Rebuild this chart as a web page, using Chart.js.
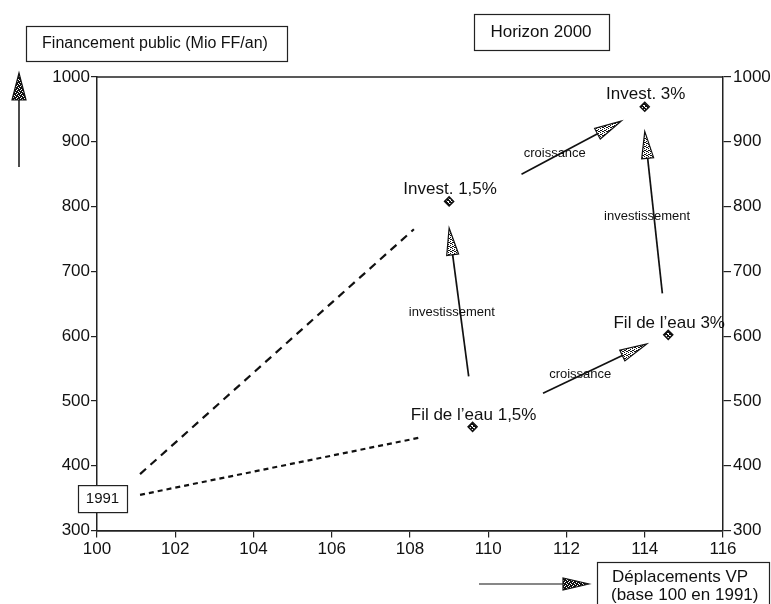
<!DOCTYPE html>
<html>
<head>
<meta charset="utf-8">
<script src="https://cdn.jsdelivr.net/npm/chart.js@4.4.0/dist/chart.umd.min.js"></script>
<style>
  html, body { margin: 0; padding: 0; background: #fff; }
  #wrap { width: 771px; height: 604px; }
</style>
</head>
<body>
<div id="wrap"><canvas id="chart" width="771" height="604"></canvas></div>
<script>
// scenario points (horizon 2000)
const pointLabels = ["Invest. 1,5%", "Invest. 3%", "Fil de l’eau 1,5%", "Fil de l’eau 3%"];
const pointX = [109.0, 114.0, 109.6, 114.6];
const pointY = [808, 954, 460, 602];

// dashed trends from 1991
const trendInvestX = [101.1, 108.1];
const trendInvestY = [387, 765];
const trendFilX = [101.1, 108.3];
const trendFilY = [355, 444];

// arrows between scenarios
const arrowLabels = ["investissement", "croissance", "investissement", "croissance"];
const arrowFromX = [109.5, 110.85, 114.45, 111.4];
const arrowFromY = [538, 850, 666, 512];
const arrowToX = [109.0, 113.4, 114.0, 114.05];
const arrowToY = [767, 932, 916, 588];

// axis ticks
const xTicks = [100, 102, 104, 106, 108, 110, 112, 114, 116];
const yTicks = [300, 400, 500, 600, 700, 800, 900, 1000];

const FONT = "'Liberation Sans', Arial, Helvetica, sans-serif";

function dither(dots) {
  const c = document.createElement("canvas");
  c.width = 4; c.height = 4;
  const g = c.getContext("2d");
  g.fillStyle = "#fff";
  g.fillRect(0, 0, 4, 4);
  g.fillStyle = "#111";
  dots.forEach(d => g.fillRect(d[0], d[1], 1, 1));
  return g.createPattern(c, "repeat");
}
const ctx = document.getElementById("chart").getContext("2d");
const lightFill = dither([[0, 0], [2, 1], [1, 2], [3, 3], [2, 3], [0, 2]]);
const darkFill = dither([[0, 0], [1, 0], [2, 0], [0, 1], [2, 1], [3, 1], [1, 2], [2, 2], [3, 2], [0, 3], [1, 3], [3, 3]]);
const markFill = dither([[0, 0], [1, 1], [2, 2], [3, 3], [3, 0], [0, 3], [2, 1], [1, 2], [1, 0], [3, 2]]);

function arrowHead(g, tx, ty, fx, fy, len, wid, fill) {
  const a = Math.atan2(ty - fy, tx - fx);
  const bx = tx - Math.cos(a) * len, by = ty - Math.sin(a) * len;
  const px = -Math.sin(a) * wid / 2, py = Math.cos(a) * wid / 2;
  g.beginPath();
  g.moveTo(tx, ty);
  g.lineTo(bx + px, by + py);
  g.lineTo(bx - px, by - py);
  g.closePath();
  g.fillStyle = fill;
  g.fill();
  g.lineWidth = 1.2;
  g.strokeStyle = "#111";
  g.stroke();
  return [bx, by];
}

function box(g, x, y, w, h) {
  g.lineWidth = 1.2;
  g.strokeStyle = "#222";
  g.strokeRect(x + 0.5, y + 0.5, w, h);
}

const annotations = {
  id: "annotations",
  afterDatasetsDraw(chart) {
    const g = chart.ctx;
    const xs = chart.scales.x, ys = chart.scales.y;
    const area = chart.chartArea;
    g.save();

    // top frame line
    g.strokeStyle = "#222";
    g.lineWidth = 1.5;
    g.beginPath();
    g.moveTo(area.left, area.top);
    g.lineTo(area.right, area.top);
    g.stroke();

    // scenario arrows
    for (let i = 0; i < arrowLabels.length; i++) {
      const fx = xs.getPixelForValue(arrowFromX[i]), fy = ys.getPixelForValue(arrowFromY[i]);
      const tx = xs.getPixelForValue(arrowToX[i]), ty = ys.getPixelForValue(arrowToY[i]);
      const a = Math.atan2(ty - fy, tx - fx);
      g.strokeStyle = "#111";
      g.lineWidth = 1.7;
      g.beginPath();
      g.moveTo(fx, fy);
      g.lineTo(tx - Math.cos(a) * 20, ty - Math.sin(a) * 20);
      g.stroke();
      arrowHead(g, tx, ty, fx, fy, 27, 12, lightFill);
    }

    // arrow captions
    const capX = [109.07, 111.7, 114.06, 112.35];
    const capY = [637, 882, 785, 541];
    g.font = "13px " + FONT;
    g.fillStyle = "#111";
    g.textAlign = "center";
    g.textBaseline = "middle";
    arrowLabels.forEach((t, i) => {
      g.fillText(t, xs.getPixelForValue(capX[i]), ys.getPixelForValue(capY[i]));
    });

    // point captions
    g.font = "17px " + FONT;
    pointLabels.forEach((t, i) => {
      g.fillText(t, xs.getPixelForValue(pointX[i]) + 1, ys.getPixelForValue(pointY[i]) - 12);
    });

    // 1991 box on the y axis
    const by = ys.getPixelForValue(350);
    g.fillStyle = "#fff";
    g.fillRect(area.left - 19, by - 13, 49, 27);
    box(g, area.left - 19, by - 13, 49, 27);
    g.fillStyle = "#111";
    g.font = "15px " + FONT;
    g.fillText("1991", area.left + 5.5, by + 1);

    // axis title boxes
    box(g, 26, 26, 261, 35);
    g.font = "16px " + FONT;
    g.fillText("Financement public (Mio FF/an)", 155, 44);

    box(g, 474, 14, 135, 36);
    g.font = "17px " + FONT;
    g.fillText("Horizon 2000", 541, 32);

    box(g, 597, 562, 172, 44);
    g.textAlign = "left";
    g.fillText("Déplacements VP", 612, 577);
    g.fillText("(base 100 en 1991)", 611, 595);

    // axis direction arrows
    g.strokeStyle = "#111";
    g.lineWidth = 1.5;
    g.beginPath();
    g.moveTo(19, 167);
    g.lineTo(19, 98);
    g.stroke();
    arrowHead(g, 19, 73, 19, 167, 27, 14, darkFill);

    g.beginPath();
    g.moveTo(479, 584);
    g.lineTo(565, 584);
    g.stroke();
    arrowHead(g, 589, 584, 479, 584, 26, 12, darkFill);

    g.restore();
  }
};

function axisFont() {
  return { family: FONT, size: 17 };
}
const plain = v => String(v);

new Chart(ctx, {
  type: "scatter",
  data: {
    datasets: [
      {
        type: "line",
        data: trendInvestX.map((x, i) => ({ x: x, y: trendInvestY[i] })),
        borderColor: "#111",
        borderWidth: 2.2,
        borderDash: [8, 6],
        pointRadius: 0,
        fill: false,
      },
      {
        type: "line",
        data: trendFilX.map((x, i) => ({ x: x, y: trendFilY[i] })),
        borderColor: "#111",
        borderWidth: 2.2,
        borderDash: [5, 4],
        pointRadius: 0,
        fill: false,
      },
      {
        data: pointX.map((x, i) => ({ x: x, y: pointY[i] })),
        pointStyle: "rectRot",
        pointRadius: 4.5,
        backgroundColor: markFill,
        borderColor: "#111",
        borderWidth: 1.5,
      },
    ],
  },
  options: {
    responsive: false,
    animation: false,
    layout: { padding: { top: 77, left: 0, right: 0, bottom: 0 } },
    plugins: {
      legend: { display: false },
      tooltip: { enabled: false },
    },
    scales: {
      x: {
        type: "linear",
        min: 100,
        max: 116,
        afterBuildTicks: s => { s.ticks = xTicks.map(v => ({ value: v })); },
        afterFit: s => { s.height = 73.5; },
        ticks: { color: "#111", font: axisFont(), padding: 2, maxRotation: 0, callback: plain },
        grid: { drawOnChartArea: false, color: "#222", tickLength: 7, lineWidth: 1.2 },
        border: { color: "#222", width: 1.8 },
      },
      y: {
        type: "linear",
        position: "left",
        min: 300,
        max: 1000,
        afterBuildTicks: s => { s.ticks = yTicks.map(v => ({ value: v })); },
        afterFit: s => { s.width = 97; },
        ticks: { color: "#111", font: axisFont(), padding: 1, callback: plain },
        grid: { drawOnChartArea: false, color: "#222", tickLength: 6, lineWidth: 1.2 },
        border: { color: "#222", width: 1.5 },
      },
      y2: {
        type: "linear",
        position: "right",
        min: 300,
        max: 1000,
        afterBuildTicks: s => { s.ticks = yTicks.map(v => ({ value: v })); },
        afterFit: s => { s.width = 48; },
        ticks: { color: "#111", font: axisFont(), padding: 2, callback: plain },
        grid: { drawOnChartArea: false, color: "#222", tickLength: 8, lineWidth: 1.2 },
        border: { color: "#222", width: 1.5 },
      },
    },
  },
  plugins: [annotations],
});
</script>
</body>
</html>
